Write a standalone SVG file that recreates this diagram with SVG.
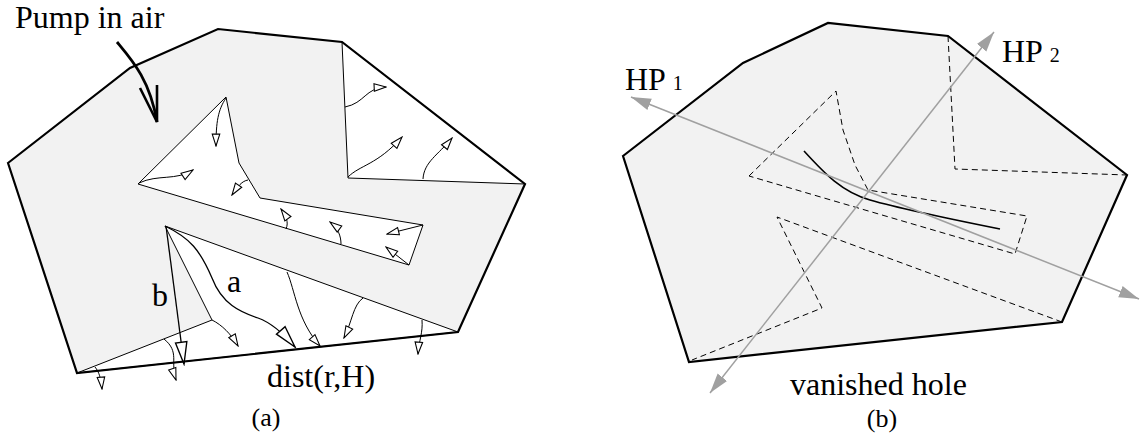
<svg xmlns="http://www.w3.org/2000/svg" width="1140" height="439" viewBox="0 0 1140 439">
<defs>
<style>
.lbl{font-family:"Liberation Serif","Times New Roman",serif;font-size:32px;fill:#000}
.cap{font-family:"Liberation Serif","Times New Roman",serif;font-size:26px;fill:#000;text-anchor:middle}
.outer{fill:none;stroke:#000;stroke-width:2.2;stroke-linejoin:miter}
.gfill{fill:#f2f2f2;stroke:none}
.thin{fill:none;stroke:#000;stroke-width:1}
.hole{fill:#fff;stroke:#000;stroke-width:1}
.sa{fill:none;stroke:#000;stroke-width:1;marker-end:url(#sm)}
.la{fill:none;stroke:#000;stroke-width:1.3;marker-end:url(#lg)}
.dash{fill:none;stroke:#000;stroke-width:1;stroke-dasharray:6,4}
.gray{fill:none;stroke:#a0a0a0;stroke-width:1.5;marker-start:url(#ga);marker-end:url(#ga)}
</style>
<marker id="sm" markerUnits="userSpaceOnUse" markerWidth="14" markerHeight="10" refX="11" refY="3.5" orient="auto" viewBox="-1 -1 13 9">
<path d="M0,0 L11,3.5 L0,7 z" fill="#fff" stroke="#000" stroke-width="1"/>
</marker>
<marker id="lg" markerUnits="userSpaceOnUse" markerWidth="26" markerHeight="16" refX="21" refY="5.5" orient="auto" viewBox="-2 -2 25 15">
<path d="M0,0 L21,5.5 L0,11 z" fill="#fff" stroke="#000" stroke-width="1.3"/>
</marker>
<marker id="ga" markerUnits="userSpaceOnUse" markerWidth="22" markerHeight="14" refX="20" refY="6" orient="auto-start-reverse" viewBox="0 0 22 12">
<path d="M0,0 L20,6 L0,12 z" fill="#a0a0a0"/>
</marker>
</defs>

<!-- Panel (a) -->
<g id="panel-a-polygon">
<polygon class="gfill" points="8,163 130,68 218,29 342,42 525,184 458,332 77,373"/>
<polygon id="hole-a" class="hole" points="138,184 226,97 239,163 260,198 423,225 409,265"/>
<polygon id="white-lower" class="hole" points="165,226 458,332 77,373 212,320"/>
<polygon id="white-right" class="hole" points="342,42 348,178 525,184"/>
</g>

<g id="connectors-a">
<path class="sa" d="M226,98 C218,110 216,122 216,146"/>
<path class="sa" d="M139,183 C158,174 176,181 193,170"/>
<path class="sa" d="M248,180 C242,181 238,186 232,195"/>
<path class="sa" d="M286,229 C289,222 286,216 281,209"/>
<path class="sa" d="M341,244 C341,236 338,228 330,222"/>
<path class="sa" d="M409,265 L386,247"/>
<path class="sa" d="M423,225 L387,234"/>
<path class="sa" d="M287,272 C295,290 297,320 320,346"/>
<path class="sa" d="M363,298 C353,305 352,322 344,338"/>
<path class="sa" d="M422,320 C423,333 419,340 418,354"/>
<path class="sa" d="M212,320 C222,325 231,334 238,346"/>
<path class="sa" d="M164,339 C180,352 170,362 176,380"/>
<path class="sa" d="M95,367 C99,372 101,378 102,389"/>
<path class="sa" d="M345,107 C365,103 365,88 386,87"/>
<path class="sa" d="M348,177 C360,165 377,165 402,137"/>
<path class="sa" d="M423,179 C424,162 438,155 452,138"/>
<path id="arrow-b" class="la" d="M166,226 L184,364"/>
<path id="arrow-a" class="la" d="M165,226 C190,238 200,250 212,278 C222,304 240,312 258,318 C272,323 283,333 295,347"/>
<path id="pump-arrow" d="M117,42 C132,60 150,80 157,122" fill="none" stroke="#000" stroke-width="2.8"/>
<path d="M140,88 L157,122 L157,85" fill="none" stroke="#000" stroke-width="2.6" stroke-linejoin="miter"/>
</g>

<g id="panel-a-outline">
<polygon class="outer" points="8,163 130,68 218,29 342,42 525,184 458,332 77,373"/>
</g>

<g id="labels-a">
<text class="lbl" x="15" y="28">Pump in air</text>
<text class="lbl" x="227" y="292">a</text>
<text class="lbl" x="152" y="306">b</text>
<text class="lbl" x="267" y="387">dist(r,H)</text>
<text class="cap" x="266" y="426">(a)</text>
</g>

<!-- Panel (b) -->
<g id="panel-b-polygon">
<polygon class="gfill" points="623,156 743,63 828,23 948,36 1127,175 1062,322 689,362"/>
<polygon class="dash" points="749,176 836,91 843,130 855,165 868,190 1027,216 1015,254"/>
<polyline class="dash" points="1062,322 777,217 822,308 692,360"/>
<polyline class="dash" points="948,36 955,169 1127,175"/>
<path id="vanished-curve" d="M804,151 C825,174 842,192 870,200 C905,210 960,221 1000,229" fill="none" stroke="#000" stroke-width="1.6"/>
<polygon class="outer" points="623,156 743,63 828,23 948,36 1127,175 1062,322 689,362"/>
</g>

<g id="connectors-b">
<path id="hp1" class="gray" d="M631,97 L1139,299"/>
<path id="hp2" class="gray" d="M710,393 L994,32"/>
</g>

<g id="labels-b">
<text class="lbl" x="625" y="90">HP <tspan font-size="20">1</tspan></text>
<text class="lbl" x="1002" y="62">HP <tspan font-size="20">2</tspan></text>
<text class="lbl" x="790" y="395">vanished hole</text>
<text class="cap" x="882" y="427">(b)</text>
</g>
</svg>
